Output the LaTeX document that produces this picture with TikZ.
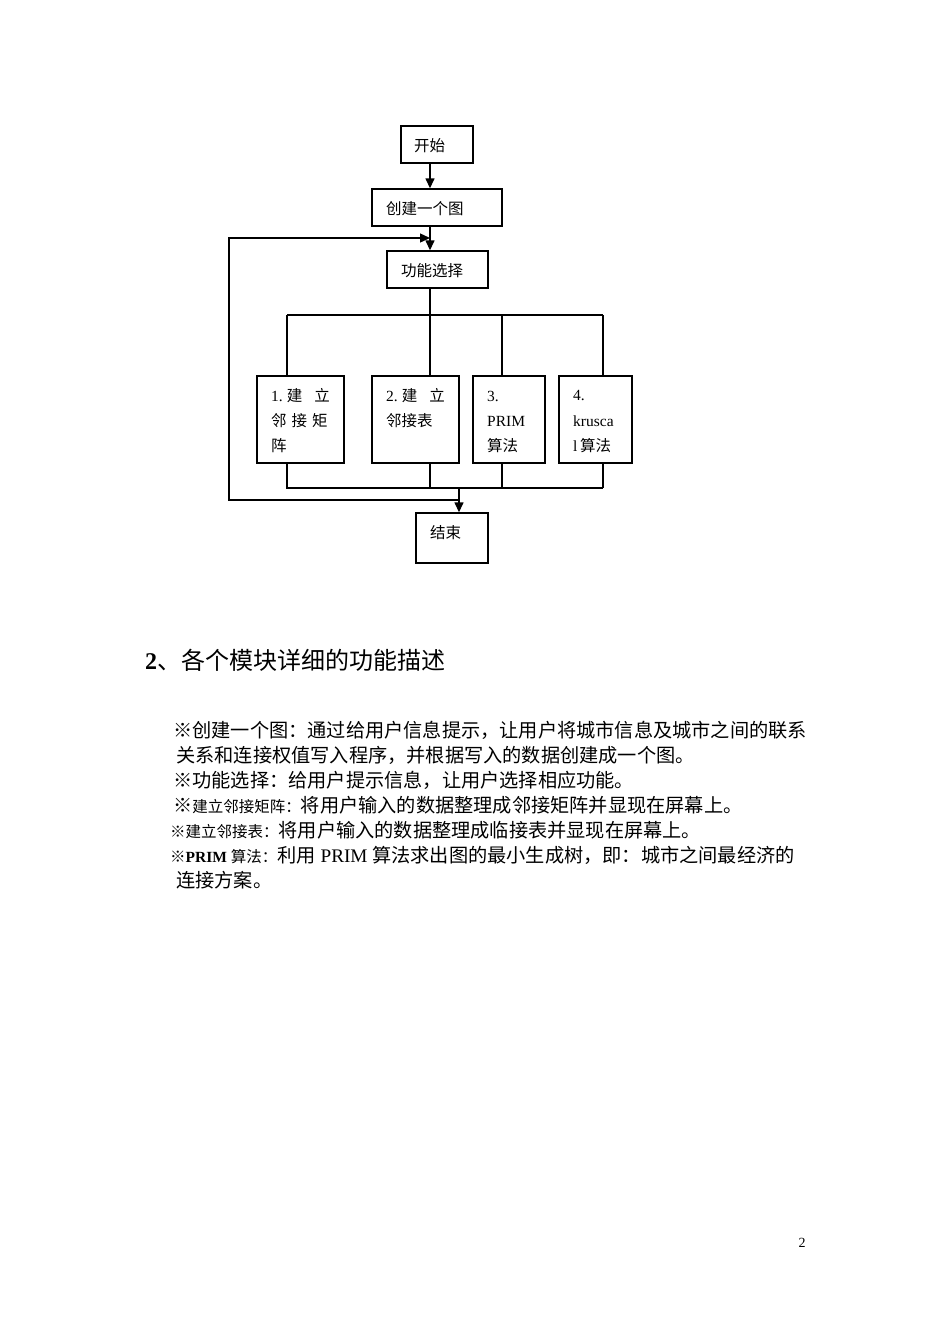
\documentclass[tikz,border=0pt]{standalone}
\usepackage{fontspec}
\setmainfont{Liberation Serif}
\newfontfamily\cjk{Noto Sans CJK SC}
\usetikzlibrary{arrows.meta}
\begin{document}
\begin{tikzpicture}[x=1pt,y=-1pt,
  bx/.style={draw,line width=1.4pt},
  ln/.style={line width=1.4pt},
  ar/.style={line width=1.4pt,-{Triangle[length=10pt,width=9pt]}},
  tx/.style={anchor=west,inner sep=0pt,font=\fontsize{15.5}{18}\selectfont},
  pt/.style={anchor=west,inner sep=0pt,font=\fontsize{19.2}{22}\selectfont}]
\useasboundingbox (0,0) rectangle (950,1344);
% boxes
\node[bx,minimum width=72pt,minimum height=37pt] (start) at (437,144.5) {};
\node[tx] at (414,146) {\cjk 开始};
\node[bx,minimum width=130pt,minimum height=37pt] (create) at (437,207.5) {};
\node[tx] at (386,209) {\cjk 创建一个图};
\node[bx,minimum width=101pt,minimum height=37pt] (sel) at (437.5,269.5) {};
\node[tx] at (401,271) {\cjk 功能选择};
\node[bx,minimum width=87pt,minimum height=87pt] (b1) at (300.5,419.5) {};
\node[bx,minimum width=87pt,minimum height=87pt] (b2) at (415.5,419.5) {};
\node[bx,minimum width=72pt,minimum height=87pt] (b3) at (509,419.5) {};
\node[bx,minimum width=73pt,minimum height=87pt] (b4) at (595.5,419.5) {};
\node[bx,minimum width=72pt,minimum height=50pt] (end) at (452,538) {};
\node[tx] at (430,533) {\cjk 结束};
% box texts
\node[tx] at (271,396) {1.\hspace{4pt}{\cjk 建}\hspace{12pt}{\cjk 立}};
\node[tx] at (271,421) {\cjk 邻\hspace{5pt}接\hspace{5pt}矩};
\node[tx] at (271,446) {\cjk 阵};
\node[tx] at (386,396) {2.\hspace{4pt}{\cjk 建}\hspace{12pt}{\cjk 立}};
\node[tx] at (386,421) {\cjk 邻接表};
\node[tx] at (487,396) {3.};
\node[tx] at (487,421) {PRIM};
\node[tx] at (487,446) {\cjk 算法};
\node[tx] at (573,396) {4.};
\node[tx] at (573,421) {krusca};
\node[tx] at (573,446) {l\,{\cjk 算法}};
% connectors
\coordinate (bt) at (430,315);
\coordinate (bb) at (459,488);
\coordinate (loop) at (459,500);
\draw[ar] (start.south -| bt) -- (create.north -| bt);
\draw[ar] (create.south -| bt) -- (sel.north -| bt);
\draw[ln] (sel.south -| bt) -- (b2.north -| bt);
\draw[ln] (287,315) -- (603,315);
\draw[ln] (b1.north -| 287,0) -- (287,315);
\draw[ln] (b3.north -| 502,0) -- (502,315);
\draw[ln] (b4.north -| 603,0) -- (603,315);
\draw[ln] (b1.south -| 287,0) -- (287,488) -- (603,488);
\draw[ln] (b2.south -| bt) -- (430,488);
\draw[ln] (b3.south -| 502,0) -- (502,488);
\draw[ln] (b4.south -| 603,0) -- (603,488);
\draw[ar] (bb) -- (end.north -| bb);
\draw[ar] (loop) -- (229,500) -- (229,238) -- (430,238);
% text
\node[anchor=west,inner sep=0pt,font=\fontsize{24}{28}\selectfont] at (145,660) {\textbf{2}{\cjk 、各个模块详细的功能描述}};
\node[pt] at (173,730) {\cjk ※创建一个图：通过给用户信息提示，让用户将城市信息及城市之间的联系};
\node[pt] at (176,755) {\cjk 关系和连接权值写入程序，并根据写入的数据创建成一个图。};
\node[pt] at (173,780) {\cjk ※功能选择：给用户提示信息，让用户选择相应功能。};
\node[pt] at (173,805) {{\cjk ※}{\fontsize{15.5}{18}\selectfont\cjk 建立邻接矩阵：}{\cjk 将用户输入的数据整理成邻接矩阵并显现在屏幕上。}};
\node[pt] at (170,830) {{\fontsize{15.5}{18}\selectfont\cjk ※建立邻接表：}{\cjk 将用户输入的数据整理成临接表并显现在屏幕上。}};
\node[pt] at (170,855) {{\fontsize{15.5}{18}\selectfont{\cjk ※}\textbf{PRIM} {\cjk 算法：}}{\cjk 利用} PRIM {\cjk 算法求出图的最小生成树，即：城市之间最经济的}};
\node[pt] at (176,880) {\cjk 连接方案。};
\node[anchor=center,inner sep=0pt,font=\fontsize{14}{16}\selectfont] at (802,1243) {2};
\end{tikzpicture}
\end{document}
